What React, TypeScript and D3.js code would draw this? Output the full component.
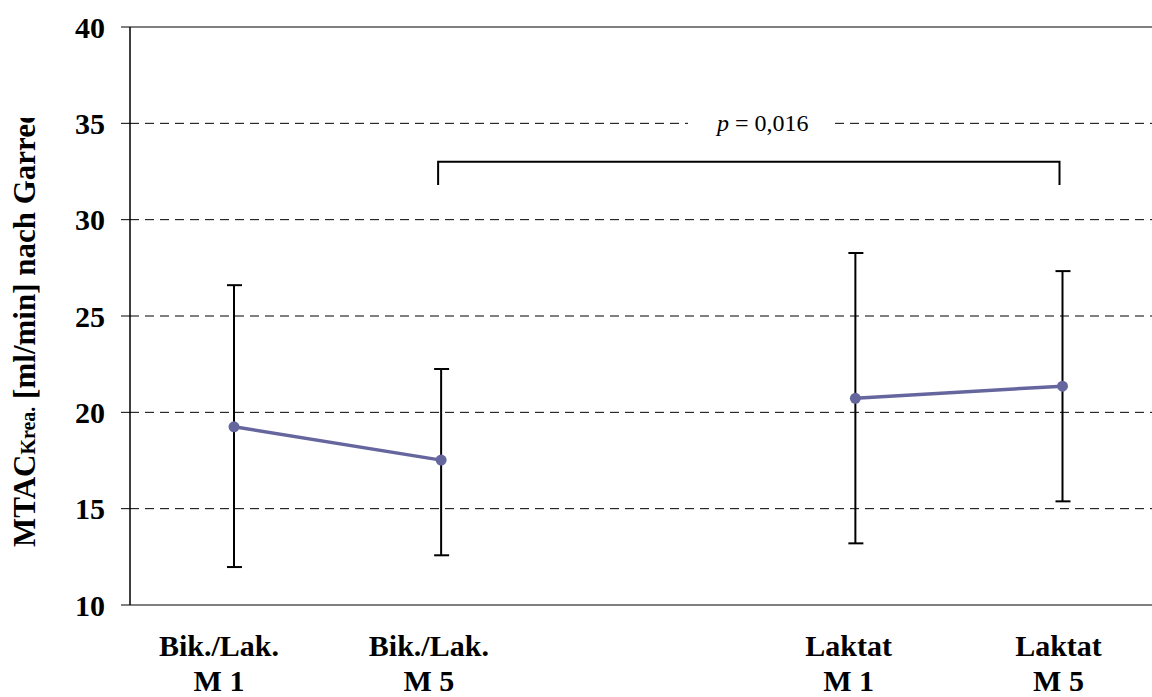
import React from "react";
import * as d3 from "d3";

const categories = ["BL1", "BL5", "gap", "L1", "L5"];
const labelLine1 = ["Bik./Lak.", "Bik./Lak.", "", "Laktat", "Laktat"];
const labelLine2 = ["M 1", "M 5", "", "M 1", "M 5"];
const means: (number | null)[] = [19.25, 17.52, null, 20.73, 21.36];
const upper: (number | null)[] = [26.6, 22.25, null, 28.27, 27.33];
const lower: (number | null)[] = [11.97, 12.58, null, 13.2, 15.38];
const yTicks = [10, 15, 20, 25, 30, 35, 40];
const pText = "0,016";

const W = 1152;
const H = 697;
const FONT = "'Liberation Serif', 'Times New Roman', serif";

export default function App() {
  const y = d3.scaleLinear().domain([10, 40]).range([605, 27]);
  const x = d3.scalePoint<string>().domain(categories).range([234, 1062.5]);
  const xl = d3.scalePoint<string>().domain(categories).range([219, 1058.5]);
  const left = 130;
  const right = 1165;

  const pts = categories.map((c, i) => ({ c, v: means[i] }));
  const line = d3
    .line<{ c: string; v: number | null }>()
    .defined((d) => d.v != null)
    .x((d) => x(d.c) as number)
    .y((d) => y(d.v as number));

  const bx1 = (x("BL5") as number) - 3;
  const bx2 = (x("L5") as number) - 3;
  const bTop = y(33);
  const bBot = y(31.8);
  const pX = (bx1 + bx2) / 2 + 14;
  const p35 = y(35);

  return (
    <div style={{ position: "absolute", left: 0, top: 0 }}>
      <svg width={W} height={H} style={{ display: "block", background: "#fff" }}>
        <defs>
          <clipPath id="titleClip">
            <rect x={0} y={118} width={80} height={600} />
          </clipPath>
        </defs>
        {/* gridlines */}
        {yTicks.map((t) => (
          <line
            key={t}
            x1={left}
            x2={right}
            y1={y(t)}
            y2={y(t)}
            stroke="#000"
            strokeWidth={1}
            strokeDasharray={t === 40 || t === 10 ? undefined : "9,6"}
          />
        ))}
        {/* ticks */}
        {yTicks.map((t) => (
          <line key={"tk" + t} x1={121} x2={left} y1={y(t)} y2={y(t)} stroke="#000" strokeWidth={1} />
        ))}
        <line x1={left} x2={left} y1={y(40)} y2={y(10)} stroke="#000" strokeWidth={1.5} />
        {/* tick labels */}
        {yTicks.map((t) => (
          <text
            key={"tl" + t}
            x={105}
            y={y(t)}
            dy="0.35em"
            textAnchor="end"
            fontFamily={FONT}
            fontWeight="bold"
            fontSize={30}
          >
            {t}
          </text>
        ))}
        {/* y title */}
        <g clipPath="url(#titleClip)">
          <text
            transform={`translate(35,547) rotate(-90)`}
            fontFamily={FONT}
            fontWeight="bold"
            fontSize={31}
          >
            MTAC
            <tspan fontSize={20}>Krea.</tspan>
            <tspan> [ml/min] nach Garred</tspan>
          </text>
        </g>
        {/* p-value */}
        <rect x={688} y={p35 - 14} width={147} height={28} fill="#fff" />
        <text x={pX} y={p35 + 8} textAnchor="middle" fontFamily={FONT} fontSize={24}>
          <tspan fontStyle="italic">p</tspan>
          <tspan> = {pText}</tspan>
        </text>
        {/* bracket */}
        <path
          d={`M${bx1},${bBot}V${bTop}H${bx2}V${bBot}`}
          fill="none"
          stroke="#000"
          strokeWidth={2}
        />
        {/* error bars */}
        {categories.map((c, i) =>
          means[i] == null ? null : (
            <g key={"eb" + c} stroke="#000" strokeWidth={2}>
              <line x1={x(c)} x2={x(c)} y1={y(upper[i] as number)} y2={y(lower[i] as number)} />
              <line x1={(x(c) as number) - 7} x2={(x(c) as number) + 8} y1={y(upper[i] as number)} y2={y(upper[i] as number)} />
              <line x1={(x(c) as number) - 7} x2={(x(c) as number) + 8} y1={y(lower[i] as number)} y2={y(lower[i] as number)} />
            </g>
          )
        )}
        {/* line */}
        <path d={line(pts) || ""} fill="none" stroke="#66669e" strokeWidth={3.5} />
        {categories.map((c, i) =>
          means[i] == null ? null : (
            <circle key={"pt" + c} cx={x(c)} cy={y(means[i] as number)} r={5.5} fill="#66669e" />
          )
        )}
        {/* x labels */}
        {categories.map((c, i) =>
          labelLine1[i] ? (
            <text
              key={"xl" + c}
              textAnchor="middle"
              fontFamily={FONT}
              fontWeight="bold"
              fontSize={30}
            >
              <tspan x={xl(c)} y={656}>{labelLine1[i]}</tspan>
              <tspan x={xl(c)} y={691}>{labelLine2[i]}</tspan>
            </text>
          ) : null
        )}
      </svg>
    </div>
  );
}
